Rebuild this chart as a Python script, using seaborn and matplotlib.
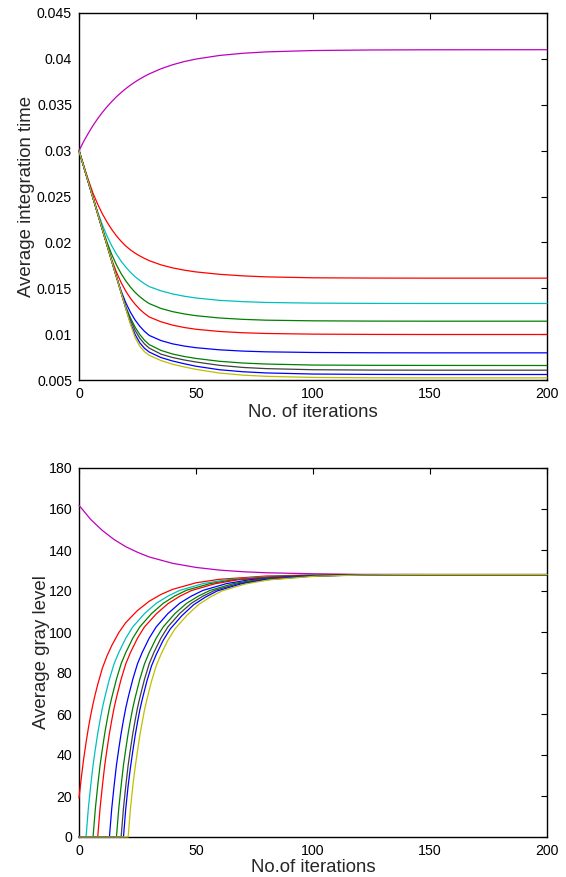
import matplotlib
matplotlib.use("Agg")
import pandas as pd
import matplotlib.pyplot as plt
import seaborn as sns

sns.set_theme(style="white")
plt.rcParams['font.family'] = ['Liberation Sans', 'DejaVu Sans']
plt.rcParams['xtick.direction'] = 'in'
plt.rcParams['ytick.direction'] = 'in'

#%% data

# upper panel: integration time, shared iteration grid
it_top = [0, 2, 4, 6, 8, 10, 12, 14, 16, 18, 20, 22, 24, 26, 28, 30,
          35, 40, 45, 50, 60, 70, 80, 100, 125, 150, 200]

t_magenta = [.0300, .0310, .0319, .03274, .03349, .03417, .03479, .03535, .03587,
             .03633, .03676, .03714, .03749, .03781, .0381, .03836, .03892, .03936,
             .03971, .03998, .04037, .04061, .04076, .04091, .04097, .04099, .0410]
t_red_a = [.0300, .0284, .0268, .02535, .02415, .0231, .0222, .0214, .02071, .02012,
           .0196, .01918, .01882, .01852, .01825, .01801, .01755, .01722, .01697,
           .01678, .01652, .01635, .01624, .01614, .01611, .0161, .0161]
t_cyan = [.0300, .02828, .02656, .0249, .0233, .0219, .02068, .01962, .01872, .01795,
          .0173, .01673, .01625, .01585, .01549, .01518, .01472, .01438, .01413,
          .01394, .01368, .01354, .01345, .01338, .01335, .01334, .01334]
t_green_a = [.0300, .02828, .02656, .02484, .02314, .0215, .0200, .01868, .01755,
             .0166, .0158, .01512, .01455, .01407, .01367, .01333, .0128, .01245,
             .0122, .01201, .01176, .01161, .01152, .01145, .01142, .01141, .01141]
t_red_b = [.0300, .02828, .02656, .02484, .02312, .0214, .01972, .0181, .01675,
           .01562, .01468, .0139, .01325, .0127, .01225, .01187, .01135, .01098,
           .01072, .01053, .01029, .01015, .01007, .0100, .00997, .00996, .00996]
t_blue_a = [.0300, .02828, .02656, .02484, .02312, .0214, .01968, .01796, .01626,
            .0147, .01342, .01238, .01153, .01085, .0103, .00986, .0093, .00894,
            .0087, .00852, .00829, .00815, .00807, .0080, .00797, .00796, .00796]
t_green_b = [.0300, .02828, .02656, .02484, .02312, .0214, .01968, .01796, .01624,
             .01458, .0130, .01176, .01075, .00995, .00933, .00886, .00823, .00783,
             .00756, .00735, .00704, .00685, .00674, .00663, .0066, .00659, .00658]
t_black = [.0300, .02828, .02656, .02484, .02312, .0214, .01968, .01796, .01624,
           .01452, .01285, .01155, .0104, .00955, .00893, .00848, .00782, .00745,
           .00718, .00696, .0066, .00637, .00624, .00612, .00608, .00607, .00607]
t_blue_b = [.0300, .02828, .02656, .02484, .02312, .0214, .01968, .01796, .01624,
            .01452, .0128, .01118, .00995, .00905, .00845, .00805, .00745, .00707,
            .00677, .0065, .00612, .0059, .00577, .00565, .00561, .0056, .0056]
t_yellow = [.0300, .02828, .02656, .02484, .02312, .0214, .01968, .01796, .01624,
            .01452, .0128, .01108, .0096, .00868, .00808, .0077, .00712, .00672,
            .00642, .00616, .00576, .00553, .0054, .00528, .00524, .00523, .00523]

# lower panel: gray level, each curve with its own iterations
g_magenta_it = [0, 5, 10, 15, 20, 25, 30, 40, 50, 60, 70, 80, 100, 120, 150, 200]
g_magenta = [161.8, 154.9, 149.5, 145.1, 141.6, 138.9, 136.6, 133.5, 131.5, 130.2,
             129.4, 128.9, 128.4, 128.1, 128, 128]

g_red_a_it = [0, 1, 2, 3, 4, 5, 6, 7, 8, 10, 12, 14, 17, 20, 25, 30, 35, 40, 50, 60,
              80, 100, 120, 200]
g_red_a = [19, 29, 38.2, 46, 53.1, 59.4, 65, 69.9, 74.4, 82.4, 88.4, 93.4, 99.7,
           104.6, 110.5, 115.0, 118.3, 120.8, 124.0, 125.7, 127.3, 127.8, 128, 128]

g_cyan_it = [0, 3, 4, 5, 6, 7, 8, 9, 10, 11, 13, 15, 17, 20, 23, 28, 33, 38, 43, 53,
             63, 83, 103, 123, 200]
g_cyan = [0, 0, 14, 25, 35, 43, 50.5, 57, 63, 68, 77, 84.5, 90, 97, 102.5, 109, 114,
          117.5, 120.3, 123.6, 125.5, 127.2, 127.8, 128, 128]

g_green_a_it = [0, 6, 7, 8, 9, 10, 11, 12, 13, 14, 16, 18, 20, 23, 26, 31, 36, 41,
                46, 56, 66, 86, 106, 126, 200]
g_green_a = [0, 0, 14, 25, 35, 43, 50.5, 57, 63, 68, 77, 84.5, 90, 97, 102.5, 109,
             114, 117.6, 120.4, 123.6, 125.5, 127.2, 127.8, 128, 128]

g_red_b_it = [0, 8, 9, 10, 11, 12, 13, 14, 15, 16, 18, 20, 22, 25, 28, 33, 38, 43,
              48, 58, 68, 88, 108, 128, 200]
g_red_b = [0, 0, 14, 25, 35, 43, 50.5, 57, 63, 68, 77, 84.5, 90, 97, 102.5, 108.8,
           113.8, 117.4, 120.2, 123.5, 125.5, 127.2, 127.8, 128, 128]

g_blue_a_it = [0, 13, 14, 15, 16, 17, 18, 19, 20, 21, 23, 25, 27, 30, 33, 38, 43, 48,
               53, 63, 73, 93, 113, 133, 200]
g_blue_a = [0, 0, 14, 25, 35, 43, 50.5, 57, 63, 68, 77, 84.5, 90, 97, 102.5, 109,
            114, 117.5, 120.3, 123.6, 125.5, 127.2, 127.8, 128, 128]

g_green_b_it = [0, 16, 17, 18, 19, 20, 21, 22, 23, 24, 26, 28, 30, 33, 36, 41, 46,
                51, 56, 66, 76, 96, 116, 136, 200]
g_green_b = [0, 0, 14, 25, 35, 43, 50.5, 57, 63, 68, 77, 84.5, 90, 97, 102.5, 109,
             114, 117.5, 120.3, 123.6, 125.5, 127.2, 127.8, 128, 128]

g_black_it = [0, 18, 19, 20, 21, 22, 23, 24, 25, 26, 28, 30, 32, 35, 38, 43, 48, 53,
              58, 68, 78, 98, 118, 138, 200]
g_black = [0, 0, 14, 25, 35, 43, 50.5, 57, 63, 68, 77, 84.5, 90, 97, 102.5, 109, 114,
           117.5, 120.3, 123.6, 125.5, 127.2, 127.8, 128, 128]

g_blue_b_it = [0, 19, 20, 21, 22, 23, 24, 25, 26, 27, 29, 31, 33, 36, 39, 44, 49, 54,
               59, 69, 79, 99, 119, 139, 200]
g_blue_b = [0, 0, 14, 25, 34, 42, 49.5, 56, 62, 67, 76, 83.5, 89, 96, 101.5, 108,
            113.3, 117, 120, 123.4, 125.4, 127.2, 127.8, 128, 128]

g_yellow_it = [0, 21, 22, 23, 24, 25, 26, 27, 28, 29, 31, 33, 35, 38, 41, 46, 51, 56,
               61, 71, 81, 101, 121, 141, 200]
g_yellow = [0, 0, 14, 25, 34, 42, 49.5, 56, 62, 67, 76, 83.5, 89, 96, 101.5, 108,
            113.3, 117, 120, 123.4, 125.4, 127.2, 127.8, 128, 128]

colors = {'magenta': (0.75, 0, 0.75), 'red_a': (1, 0, 0), 'cyan': (0, 0.75, 0.75),
          'green_a': (0, 0.5, 0), 'red_b': (1, 0, 0), 'blue_a': (0, 0, 1),
          'green_b': (0, 0.5, 0), 'black': (0.25, 0.25, 0.25), 'blue_b': (0, 0, 1),
          'yellow': (0.75, 0.75, 0)}

top_ytick_labels = ['0.005', '0.01', '0.015', '0.02', '0.025', '0.03', '0.035',
                    '0.04', '0.045']

#%% long tables for seaborn

top_series = {'magenta': t_magenta, 'red_a': t_red_a, 'cyan': t_cyan,
              'green_a': t_green_a, 'red_b': t_red_b, 'blue_a': t_blue_a,
              'green_b': t_green_b, 'black': t_black, 'blue_b': t_blue_b,
              'yellow': t_yellow}
top_df = pd.concat([pd.DataFrame({'iteration': it_top, 'value': v, 'curve': k})
                    for k, v in top_series.items()], ignore_index=True)

low_series = {'magenta': (g_magenta_it, g_magenta), 'red_a': (g_red_a_it, g_red_a),
              'cyan': (g_cyan_it, g_cyan), 'green_a': (g_green_a_it, g_green_a),
              'red_b': (g_red_b_it, g_red_b), 'blue_a': (g_blue_a_it, g_blue_a),
              'green_b': (g_green_b_it, g_green_b), 'black': (g_black_it, g_black),
              'blue_b': (g_blue_b_it, g_blue_b), 'yellow': (g_yellow_it, g_yellow)}
low_df = pd.concat([pd.DataFrame({'iteration': x, 'value': y, 'curve': k})
                    for k, (x, y) in low_series.items()], ignore_index=True)

#%% plot

fig = plt.figure(figsize=(5.66, 8.77), dpi=100)
ax1 = fig.add_axes([79 / 566, 1 - 380 / 877, 468 / 566, 367 / 877])
ax2 = fig.add_axes([79 / 566, 1 - 837 / 877, 468 / 566, 369 / 877])

for ax, df in [(ax1, top_df), (ax2, low_df)]:
    sns.lineplot(data=df, x='iteration', y='value', hue='curve', palette=colors,
                 estimator=None, sort=False, legend=False, linewidth=0.9,
                 ax=ax, zorder=3, clip_on=False)
    ax.set_xlim(0, 200)
    ax.set_xticks([0, 50, 100, 150, 200])
    ax.tick_params(direction='in', length=4, width=0.8, top=True, right=True,
                   labelsize=10.2, pad=5, colors='black')
    for s in ax.spines.values():
        s.set_color('black')
        s.set_linewidth(1.0)

ax1.set_ylim(0.005, 0.045)
ax1.set_yticks([0.005 * i for i in range(1, 10)])
ax1.set_yticklabels(top_ytick_labels)
ax1.set_xlabel("No. of iterations", fontsize=13.4, labelpad=2)
ax1.set_ylabel("Average integration time", fontsize=13.4, labelpad=1)

ax2.set_ylim(0, 180)
ax2.set_yticks(range(0, 181, 20))
ax2.set_xlabel("No.of iterations", fontsize=13.4, labelpad=1)
ax2.set_ylabel("Average gray level", fontsize=13.4, labelpad=-1)

fig.savefig('out.png', dpi=100)
